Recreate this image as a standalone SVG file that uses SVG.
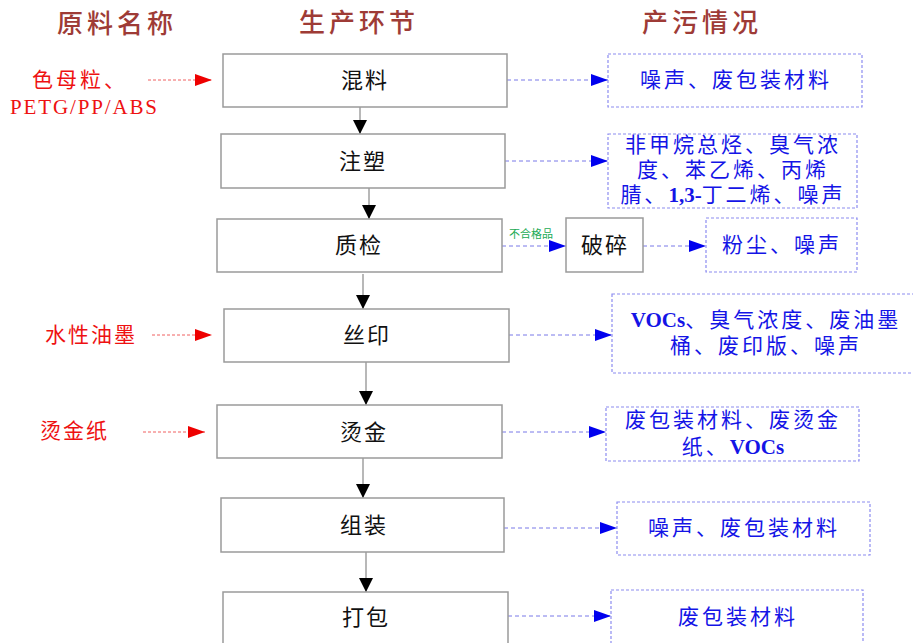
<svg xmlns="http://www.w3.org/2000/svg" width="913" height="643" viewBox="0 0 913 643">
<style>
.hdr{font-family:"Noto Sans CJK SC","Liberation Serif",serif;font-size:26px;font-weight:500;fill:#9E3B36;letter-spacing:4px;text-anchor:middle}
.box{fill:#fff;stroke:#9a9a9a;stroke-width:1.5}
.out{fill:#fff;stroke:#8c8cf0;stroke-width:1.2;stroke-dasharray:3 2}
.bt{font-family:"Liberation Serif","Noto Sans CJK SC",serif;font-size:22px;fill:#111;text-anchor:middle;dominant-baseline:central;letter-spacing:2px}
.ot{font-family:"Liberation Serif","Noto Sans CJK SC",serif;font-size:21px;fill:#1414e6;text-anchor:middle;dominant-baseline:central;letter-spacing:3px}
.rt{font-family:"Liberation Serif","Noto Sans CJK SC",serif;font-size:21px;fill:#ee1111;dominant-baseline:central}
.v{stroke:#a0a0a0;stroke-width:1.5;fill:none;marker-end:url(#blk)}
.h{stroke:#7878e8;stroke-width:1;stroke-dasharray:4 3;fill:none;marker-end:url(#blu)}
.r{stroke:#f06060;stroke-width:1;stroke-dasharray:3 2;fill:none;marker-end:url(#red)}
</style>
<defs>
<marker id="blk" markerUnits="userSpaceOnUse" markerWidth="14" markerHeight="16" refX="14" refY="7" orient="auto"><path d="M0,0 L14,7 L0,14 Z" fill="#000"/></marker>
<marker id="blu" markerUnits="userSpaceOnUse" markerWidth="18" markerHeight="12" refX="17" refY="6" orient="auto"><path d="M0,0 L17,6 L0,12 Z" fill="#0000ee"/></marker>
<marker id="red" markerUnits="userSpaceOnUse" markerWidth="18" markerHeight="12" refX="17" refY="6" orient="auto"><path d="M0,0 L17,6 L0,12 Z" fill="#ee0000"/></marker>
</defs>

<g id="headers">
<text class="hdr" x="117" y="33">原料名称</text>
<text class="hdr" x="359" y="32">生产环节</text>
<text class="hdr" x="702" y="32">产污情况</text>
</g>

<g id="connectors">
<line class="v" x1="360" y1="107" x2="360" y2="134"/>
<line class="v" x1="369" y1="188" x2="369" y2="219"/>
<line class="v" x1="363" y1="274" x2="363" y2="309"/>
<line class="v" x1="366" y1="362" x2="366" y2="405"/>
<line class="v" x1="363" y1="458" x2="363" y2="498"/>
<line class="v" x1="366" y1="552" x2="366" y2="592"/>
<line class="h" x1="507" y1="80" x2="608" y2="80"/>
<line class="h" x1="505" y1="161" x2="608" y2="161"/>
<line class="h" x1="502" y1="246" x2="566" y2="246"/>
<line class="h" x1="643" y1="246" x2="706" y2="246"/>
<line class="h" x1="509" y1="335" x2="612" y2="335"/>
<line class="h" x1="502" y1="432" x2="606" y2="432"/>
<line class="h" x1="504" y1="528" x2="617" y2="528"/>
<line class="h" x1="508" y1="616" x2="611" y2="616"/>
<line class="r" x1="148" y1="80" x2="212" y2="80"/>
<line class="r" x1="152" y1="335" x2="212" y2="335"/>
<line class="r" x1="143" y1="432" x2="205" y2="432"/>
<text x="531" y="233" font-family="Noto Sans CJK SC,sans-serif" font-size="11" fill="#22aa55" text-anchor="middle" dominant-baseline="central">不合格品</text>
</g>

<g id="in1"><text class="rt" x="32" y="80" letter-spacing="3">色母粒、</text><text class="rt" x="10" y="107" textLength="147" lengthAdjust="spacing">PETG/PP/ABS</text></g>
<g id="in2"><text class="rt" x="45" y="335" letter-spacing="2">水性油墨</text></g>
<g id="in3"><text class="rt" x="40" y="431" letter-spacing="2">烫金纸</text></g>

<g id="n1"><rect class="box" x="223" y="54" width="284" height="53"/><text class="bt" x="365" y="80">混料</text></g>
<g id="n2"><rect class="box" x="221" y="134" width="284" height="54"/><text class="bt" x="363" y="161">注塑</text></g>
<g id="n3"><rect class="box" x="217" y="219" width="285" height="53"/><text class="bt" x="359" y="245">质检</text></g>
<g id="n3b"><rect class="box" x="566" y="218" width="77" height="54"/><text class="bt" x="605" y="245">破碎</text></g>
<g id="n4"><rect class="box" x="224" y="309" width="285" height="53"/><text class="bt" x="367" y="335">丝印</text></g>
<g id="n5"><rect class="box" x="217" y="405" width="285" height="53"/><text class="bt" x="364" y="432">烫金</text></g>
<g id="n6"><rect class="box" x="221" y="498" width="283" height="54"/><text class="bt" x="364" y="525">组装</text></g>
<g id="n7"><rect class="box" x="223" y="592" width="285" height="60"/><text class="bt" x="366" y="617">打包</text></g>

<g id="o1"><rect class="out" x="608" y="54" width="254" height="53"/><text class="ot" x="736" y="80">噪声、废包装材料</text></g>
<g id="o2"><rect class="out" x="608" y="134" width="249" height="74"/>
<text class="ot" x="733" y="145">非甲烷总烃、臭气浓</text>
<text class="ot" x="733" y="170">度、苯乙烯、丙烯</text>
<text class="ot" x="733" y="195">腈、<tspan font-weight="bold" letter-spacing="0">1,3-</tspan>丁二烯、噪声</text></g>
<g id="o3"><rect class="out" x="706" y="218" width="151" height="54"/><text class="ot" x="782" y="245">粉尘、噪声</text></g>
<g id="o4"><rect class="out" x="612" y="294" width="310" height="79"/>
<text class="ot" x="766" y="320" letter-spacing="3.5"><tspan font-weight="bold" letter-spacing="0">VOCs</tspan>、臭气浓度、废油墨</text>
<text class="ot" x="766" y="346">桶、废印版、噪声</text></g>
<g id="o5"><rect class="out" x="606" y="407" width="253" height="54"/>
<text class="ot" x="733" y="420">废包装材料、废烫金</text>
<text class="ot" x="733" y="447">纸、<tspan font-weight="bold" letter-spacing="0">VOCs</tspan></text></g>
<g id="o6"><rect class="out" x="617" y="502" width="253" height="53"/><text class="ot" x="744" y="528">噪声、废包装材料</text></g>
<g id="o7"><rect class="out" x="611" y="590" width="252" height="60"/><text class="ot" x="738" y="617">废包装材料</text></g>
</svg>
